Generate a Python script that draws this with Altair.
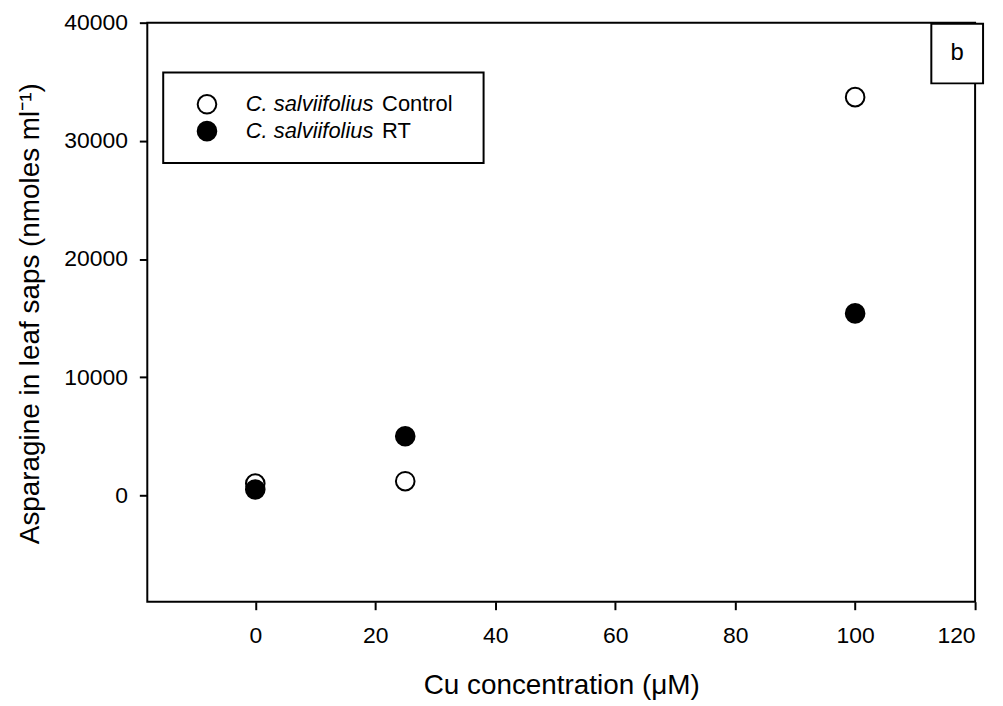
import altair as alt
import pandas as pd

# ---- data ----
cu = [0, 25, 100]
control = [1000, 1200, 33700]
rt = [500, 5000, 15400]
species = "C. salviifolius"
series = ["Control", "RT"]
x_ticks = [0, 20, 40, 60, 80, 100, 120]
y_ticks = [0, 10000, 20000, 30000, 40000]
panel = ["b"]

df_c = pd.DataFrame({"cu": cu, "val": control})
df_r = pd.DataFrame({"cu": cu, "val": rt})

W, H = 832, 582
FONT = "Liberation Sans"

xs = alt.Scale(domain=[-18, 120], nice=False, zero=False)
ys = alt.Scale(domain=[-9000, 40000], nice=False, zero=False)

x_axis = alt.Axis(values=x_ticks, title="Cu concentration (μM)", grid=False, domain=False,
                  tickColor="black", tickWidth=2, tickSize=8,
                  labelFontSize=23, labelPadding=15, labelColor="black", labelFont=FONT,
                  titleFontSize=28, titleFontWeight="normal", titleColor="black", titleFont=FONT,
                  titleY=84, titleBaseline="middle")
y_axis = alt.Axis(values=y_ticks, title="Asparagine in leaf saps (nmoles ml⁻¹)", grid=False, domain=False,
                  format="d", tickColor="black", tickWidth=2, tickSize=8,
                  labelFontSize=23, labelPadding=12, labelColor="black", labelFont=FONT,
                  titleFontSize=28, titleFontWeight="normal", titleColor="black", titleFont=FONT,
                  titleX=-117, titleY=292, titleBaseline="middle", titleAngle=-90)

ctrl = alt.Chart(df_c).mark_point(shape="circle", filled=True, fill="white", stroke="black",
                                  strokeWidth=2, size=350, opacity=1).encode(
    x=alt.X("cu:Q", scale=xs, axis=x_axis),
    y=alt.Y("val:Q", scale=ys, axis=y_axis),
)
rtp = alt.Chart(df_r).mark_point(shape="circle", filled=True, fill="black", stroke="black",
                                 strokeWidth=2, size=350, opacity=1).encode(
    x=alt.X("cu:Q", scale=xs),
    y=alt.Y("val:Q", scale=ys),
)

one = pd.DataFrame({"d": [0]})

# legend box
leg_box = alt.Chart(one).mark_rect(fill="white", stroke="black", strokeWidth=2).encode(
    x=alt.value(16), x2=alt.value(338), y=alt.value(50), y2=alt.value(141))
leg_layers = [leg_box]
for i, (s, fill) in enumerate(zip(series, ["white", "black"])):
    yy = 82 + i * 27
    leg_layers.append(alt.Chart(one).mark_point(shape="circle", filled=True, fill=fill, stroke="black",
                                                strokeWidth=2, size=350, opacity=1).encode(
        x=alt.value(60), y=alt.value(yy)))
    leg_layers.append(alt.Chart(pd.DataFrame({"t": [species]})).mark_text(
        align="left", baseline="middle", fontSize=22, fontStyle="italic", font=FONT, color="black").encode(
        x=alt.value(99), y=alt.value(yy), text="t:N"))
    leg_layers.append(alt.Chart(pd.DataFrame({"t": [s]})).mark_text(
        align="left", baseline="middle", fontSize=22, font=FONT, color="black").encode(
        x=alt.value(236), y=alt.value(yy), text="t:N"))

# panel label box
b_box = alt.Chart(one).mark_rect(fill="white", stroke="black", strokeWidth=2).encode(
    x=alt.value(788), x2=alt.value(840), y=alt.value(1), y2=alt.value(61))
b_txt = alt.Chart(pd.DataFrame({"t": panel})).mark_text(
    align="center", baseline="middle", fontSize=24, font=FONT, color="black").encode(
    x=alt.value(814), y=alt.value(31), text="t:N")

chart = alt.layer(ctrl, rtp, *leg_layers, b_box, b_txt).properties(
    width=W, height=H,
    background="white",
    autosize=alt.AutoSizeParams(type="none"),
    padding={"left": 140, "top": 13, "right": 20, "bottom": 97},
).configure_view(stroke="black", strokeWidth=2)

chart.save("out.html", embed_options={"renderer": "svg", "actions": False})
